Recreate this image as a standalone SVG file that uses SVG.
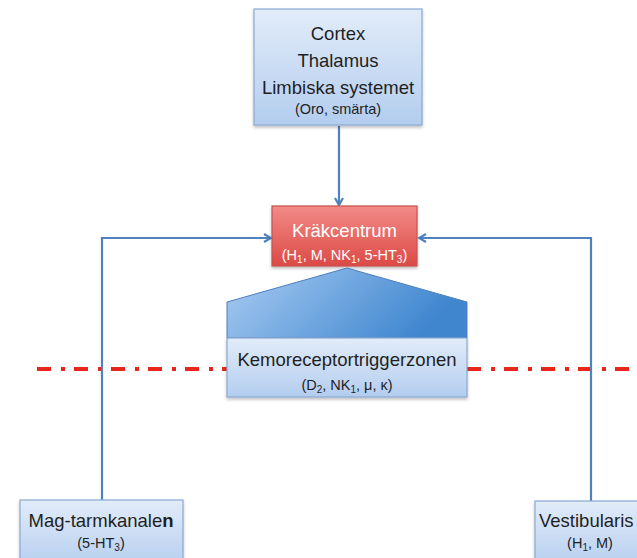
<svg xmlns="http://www.w3.org/2000/svg" width="637" height="558" viewBox="0 0 637 558">
<defs>
<linearGradient id="gBlue" x1="0" y1="0" x2="0" y2="1">
<stop offset="0" stop-color="#e2ecf9"/>
<stop offset="1" stop-color="#b3cdef"/>
</linearGradient>
<linearGradient id="gRed" x1="0" y1="0" x2="0" y2="1">
<stop offset="0" stop-color="#f28b88"/>
<stop offset="1" stop-color="#dc4a45"/>
</linearGradient>
<linearGradient id="gPent" x1="0" y1="0" x2="1" y2="0.3">
<stop offset="0" stop-color="#a9ccf2"/>
<stop offset="1" stop-color="#3f86cf"/>
</linearGradient>
<filter id="sh" x="-10%" y="-10%" width="120%" height="130%">
<feDropShadow dx="0" dy="2" stdDeviation="1.5" flood-color="#000" flood-opacity="0.25"/>
</filter>
<marker id="arr" markerWidth="10" markerHeight="10" refX="8" refY="5" orient="auto" markerUnits="userSpaceOnUse">
<path d="M1,1 L8,5 L1,9" fill="none" stroke="#4f81bd" stroke-width="2.2"/>
</marker>
</defs>
<style>
.box{fill:url(#gBlue);stroke:#8ba9d2;stroke-width:1.2;filter:url(#sh)}
.t{font-family:"Liberation Sans",Arial,sans-serif;fill:#1f1f1f;text-anchor:middle}
.big{font-size:18.5px}
.sm{font-size:14.5px}
.w{fill:#ffffff}
.sub{font-size:10px}
.con{fill:none;stroke:#4f81bd;stroke-width:2.2;marker-end:url(#arr)}
.cut{fill:none;stroke:#e8261c;stroke-width:4;stroke-dasharray:14 10 4 9}
</style>
<rect width="637" height="558" fill="#ffffff"/>

<g id="cut-line">
<line class="cut" x1="37" y1="369" x2="227" y2="369"/>
<line class="cut" x1="467" y1="369" x2="637" y2="369"/>
</g>

<g id="connectors">
<path class="con" d="M339,126 L339,205"/>
<path class="con" d="M102,500 L102,238 L271,238"/>
<path class="con" d="M591,501 L591,238 L419,238"/>
</g>

<g id="cortex">
<rect class="box" x="254" y="9" width="168" height="116"/>
<text class="t big" x="338" y="40">Cortex</text>
<text class="t big" x="338" y="67">Thalamus</text>
<text class="t big" x="338" y="94">Limbiska systemet</text>
<text class="t sm" x="338" y="114">(Oro, smärta)</text>
</g>

<g id="krakcentrum">
<rect x="272" y="206" width="145" height="60" fill="url(#gRed)" stroke="#c9504b" stroke-width="1.2" filter="url(#sh)"/>
<text class="t big w" x="344.5" y="237">Kräkcentrum</text>
<text class="t sm w" x="344.5" y="260">(H<tspan class="sub" dy="3">1</tspan><tspan dy="-3">, M, NK</tspan><tspan class="sub" dy="3">1</tspan><tspan dy="-3">, 5-HT</tspan><tspan class="sub" dy="3">3</tspan><tspan dy="-3">)</tspan></text>
</g>

<g id="ctz">
<path d="M227,338 L227,302 L347,268 L467,302 L467,338 Z" fill="url(#gPent)" stroke="#4d7fbd" stroke-width="1"/>
<rect class="box" x="227" y="338" width="240" height="59"/>
<text class="t big" x="347" y="366">Kemoreceptortriggerzonen</text>
<text class="t sm" x="347" y="390">(D<tspan class="sub" dy="3">2</tspan><tspan dy="-3">,  NK</tspan><tspan class="sub" dy="3">1</tspan><tspan dy="-3">, μ, κ)</tspan></text>
</g>

<g id="mag">
<rect class="box" x="20" y="500" width="163" height="70"/>
<text class="t big" x="101" y="527">Mag-tarmkanale<tspan font-weight="bold">n</tspan></text>
<text class="t sm" x="101" y="548">(5-HT<tspan class="sub" dy="3">3</tspan><tspan dy="-3">)</tspan></text>
</g>

<g id="vest">
<rect class="box" x="535" y="501" width="120" height="70"/>
<text class="t big" x="539" y="527" style="text-anchor:start">Vestibularis</text>
<text class="t sm" x="590" y="548">(H<tspan class="sub" dy="3">1</tspan><tspan dy="-3">, M)</tspan></text>
</g>
</svg>
